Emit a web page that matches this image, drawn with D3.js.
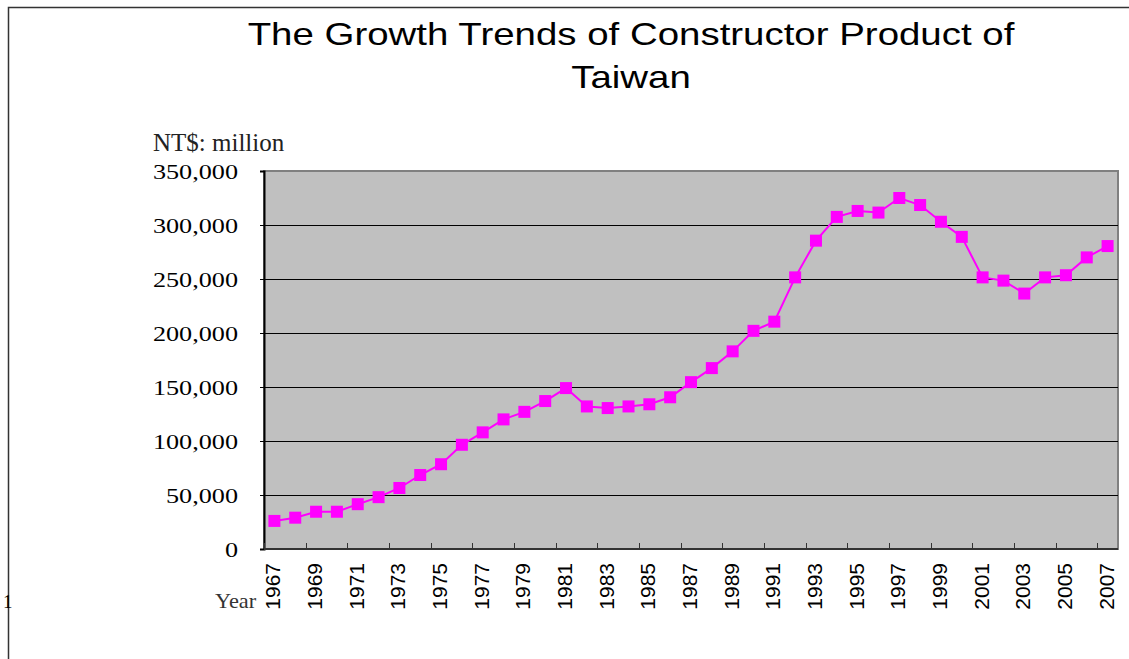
<!DOCTYPE html>
<html lang="en">
<head>
<meta charset="UTF-8">
<title>Constructor Product of Taiwan</title>
<script src="https://d3js.org/d3.v7.min.js"></script>
<style>
  body { margin: 0; background: #fff; }
  .serif { font-family: "Liberation Serif", "DejaVu Serif", serif; }
  .sans { font-family: "Liberation Sans", Arial, sans-serif; }
</style>
</head>
<body>
<div id="chart"></div>
<script>
// values (NT$ million)
const years = d3.range(1967, 2008);
const values = [
  26000, 29000, 34500, 34500, 41500, 48000, 56500, 68500, 78500, 96500,
  108000, 120000, 127000, 137000, 149000, 132000, 130500, 132000, 134000, 140500,
  154500, 167500, 183000, 202000, 210500, 251500, 285500, 307500, 313000, 311500,
  325000, 318500, 303000, 289000, 251500, 248500, 236500, 251500, 253500, 270000,
  280500
];
const yTicks = [0, 50000, 100000, 150000, 200000, 250000, 300000, 350000];
const titleLines = ["The Growth Trends of Constructor Product of", "Taiwan"];

const W = 1129, H = 659;
const plot = { left: 264, right: 1118, top: 171, bottom: 549 };

const svg = d3.select("#chart").append("svg")
  .attr("width", W)
  .attr("height", H);

// outer frame (runs off the right and bottom edges)
svg.append("rect")
  .attr("x", 8.5).attr("y", 7.5)
  .attr("width", W + 20).attr("height", H + 20)
  .attr("fill", "none")
  .attr("stroke", "#333")
  .attr("stroke-width", 1.5);

svg.append("text")
  .attr("class", "serif")
  .attr("x", 3).attr("y", 608)
  .attr("font-size", 19)
  .text("1");

// title (the original text is set wide)
svg.append("g").selectAll("text")
  .data(titleLines)
  .join("text")
  .attr("class", "sans")
  .attr("transform", (d, i) => `translate(631,${45 + i * 43}) scale(1.24,1)`)
  .attr("text-anchor", "middle")
  .attr("font-size", 31)
  .attr("fill", "#000")
  .text(d => d);

const x = d3.scaleBand()
  .domain(years)
  .range([plot.left, plot.right]);

const y = d3.scaleLinear()
  .domain([0, 350000])
  .range([plot.bottom, plot.top]);

// plot background
svg.append("rect")
  .attr("x", plot.left).attr("y", plot.top)
  .attr("width", plot.right - plot.left)
  .attr("height", plot.bottom - plot.top)
  .attr("fill", "#c0c0c0")
  .attr("stroke", "#808080")
  .attr("stroke-width", 2);

// gridlines
svg.append("g")
  .selectAll("line")
  .data(yTicks.filter(d => d > 0 && d < 350000))
  .join("line")
  .attr("x1", plot.left).attr("x2", plot.right)
  .attr("y1", d => Math.round(y(d)) + 0.5)
  .attr("y2", d => Math.round(y(d)) + 0.5)
  .attr("stroke", "#000")
  .attr("stroke-width", 1);

// y axis
const yAxis = svg.append("g")
  .attr("transform", `translate(${plot.left},0)`)
  .call(d3.axisLeft(y)
    .tickValues(yTicks)
    .tickSize(4)
    .tickFormat(d3.format(",")));
yAxis.select(".domain").attr("stroke", "#000").attr("stroke-width", 2);
yAxis.selectAll("text")
  .attr("class", "serif")
  .attr("x", 0)
  .attr("transform", "translate(-26,0) scale(1.19,1)")
  .attr("font-size", 22)
  .attr("fill", "#000");

// x axis: ticks at every second category boundary, labels on odd years
const xAxis = svg.append("g")
  .attr("transform", `translate(0,${plot.bottom})`);
xAxis.append("line")
  .attr("x1", plot.left).attr("x2", plot.right)
  .attr("stroke", "#333").attr("stroke-width", 2);
xAxis.selectAll(".tick")
  .data(years.filter((d, i) => i % 2 === 0))
  .join("line")
  .attr("class", "tick")
  .attr("x1", d => Math.round(x(d)) + 0.5)
  .attr("x2", d => Math.round(x(d)) + 0.5)
  .attr("y1", 0).attr("y2", -6)
  .attr("stroke", "#333");
xAxis.selectAll(".lbl")
  .data(years.filter((d, i) => i % 2 === 0))
  .join("text")
  .attr("class", "lbl sans")
  .attr("transform", d => `translate(${x(d) + x.bandwidth() / 2 + 6},14) rotate(-90)`)
  .attr("text-anchor", "end")
  .attr("font-size", 21)
  .attr("fill", "#000")
  .text(d => d);

// axis titles
svg.append("text")
  .attr("class", "serif")
  .attr("x", 153).attr("y", 151)
  .attr("font-size", 25)
  .attr("fill", "#222")
  .text("NT$: million");

svg.append("text")
  .attr("class", "serif")
  .attr("transform", "translate(215,608) scale(1.12,1)")
  .attr("font-size", 20)
  .attr("fill", "#333")
  .text("Year");

// series
const pts = years.map((yr, i) => ({ yr, v: values[i] }));
const line = d3.line()
  .x(d => x(d.yr) + x.bandwidth() / 2)
  .y(d => y(d.v));

svg.append("path")
  .datum(pts)
  .attr("d", line)
  .attr("fill", "none")
  .attr("stroke", "#ff00ff")
  .attr("stroke-width", 2);

const m = 12;
svg.append("g")
  .selectAll("rect")
  .data(pts)
  .join("rect")
  .attr("x", d => x(d.yr) + x.bandwidth() / 2 - m / 2)
  .attr("y", d => y(d.v) - m / 2)
  .attr("width", m).attr("height", m)
  .attr("fill", "#ff00ff");
</script>
</body>
</html>
